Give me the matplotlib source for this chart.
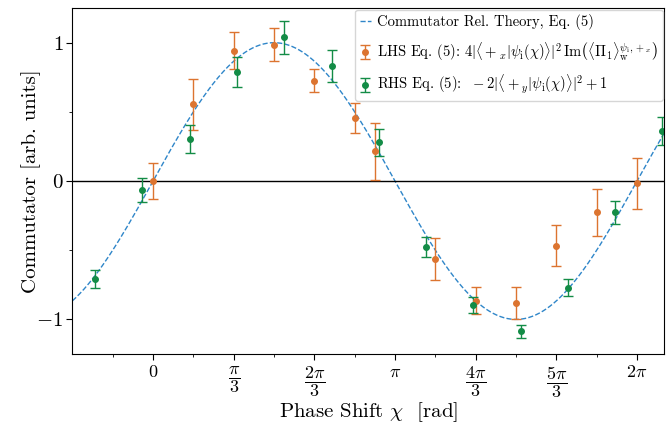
import numpy as np
import matplotlib
matplotlib.use("Agg")
import matplotlib.pyplot as plt

#----------------------------------------------------
# data
#----------------------------------------------------
lhs_chi = [0.0, 0.524, 1.048, 1.567, 2.095, 2.618, 2.878, 3.666, 4.189, 4.713, 5.237, 5.760, 6.283]
lhs_val = [0.0, 0.556, 0.942, 0.986, 0.725, 0.454, 0.217, -0.560, -0.865, -0.884, -0.466, -0.225, -0.015]
lhs_err = [0.130, 0.185, 0.135, 0.120, 0.083, 0.110, 0.206, 0.152, 0.097, 0.116, 0.145, 0.170, 0.185]

rhs_chi = [-0.748, -0.143, 0.476, 1.090, 1.700, 2.320, 2.934, 3.540, 4.159, 4.774, 5.384, 5.998, 6.613]
rhs_val = [-0.705, -0.065, 0.304, 0.790, 1.039, 0.831, 0.280, -0.478, -0.896, -1.085, -0.771, -0.227, 0.360]
rhs_err = [0.065, 0.087, 0.098, 0.108, 0.120, 0.113, 0.097, 0.072, 0.055, 0.047, 0.062, 0.080, 0.100]

xtick_pos = [0, np.pi/3, 2*np.pi/3, np.pi, 4*np.pi/3, 5*np.pi/3, 2*np.pi]
xtick_lab = [r'$0$', r'$\dfrac{\pi}{3}$', r'$\dfrac{2\pi}{3}$', r'$\pi$',
             r'$\dfrac{4\pi}{3}$', r'$\dfrac{5\pi}{3}$', r'$2\pi$']

#----------------------------------------------------
# style
#----------------------------------------------------
plt.rcParams['font.family'] = 'serif'
plt.rcParams['font.serif'] = ['cmr10', 'DejaVu Serif']
plt.rcParams['mathtext.fontset'] = 'cm'
plt.rcParams['axes.formatter.use_mathtext'] = True
plt.rcParams['axes.unicode_minus'] = True

c_blue = '#2f86c9'
c_orange = '#dc7430'
c_green = '#138c46'

fig, ax = plt.subplots(figsize=(6.7, 4.26), dpi=100)
fig.subplots_adjust(left=0.108, right=0.991, top=0.981, bottom=0.169)

xlo, xhi = -np.pi/3, 2*np.pi + 0.35
chi = np.linspace(xlo, xhi, 500)
ax.plot(chi, np.sin(chi), '--', color=c_blue, lw=1.0, label='Commutator Rel. Theory, Eq. (5)')
ax.axhline(0, color='black', lw=1.0)

ax.errorbar(lhs_chi, lhs_val, yerr=lhs_err, fmt='o', color=c_orange, ms=4, elinewidth=1.0,
            capsize=3.5, capthick=1.0,
            label=r'LHS Eq. (5): $4|\langle +_x|\psi_\mathrm{i}(\chi)\rangle|^2\,\mathrm{Im}\left(\langle \Pi_1\rangle_\mathrm{w}^{\psi_\mathrm{i},+_x}\right)$')
ax.errorbar(rhs_chi, rhs_val, yerr=rhs_err, fmt='o', color=c_green, ms=4, elinewidth=1.0,
            capsize=3.5, capthick=1.0,
            label=r'RHS Eq. (5): $\ -2|\langle +_y|\psi_\mathrm{i}(\chi)\rangle|^2+1$')

ax.set_xlim(xlo, xhi)
ax.set_ylim(-1.25, 1.25)
ax.set_xticks(xtick_pos)
ax.set_xticklabels(xtick_lab)
ax.set_xticks(np.arange(-np.pi/6, 2*np.pi + 0.3, np.pi/3), minor=True)
ax.set_yticks([-1, 0, 1])
ax.set_yticks([-0.5, 0.5], minor=True)
ax.tick_params(axis='x', which='major', labelsize=13, length=4)
ax.tick_params(axis='y', which='major', labelsize=15, length=4, pad=2.5)
ax.tick_params(axis='both', which='minor', length=2.5)

ax.set_xlabel(r'Phase Shift $\chi$  [rad]', fontsize=15, labelpad=0)
ax.set_ylabel('Commutator [arb. units]', fontsize=15, labelpad=-3)

ax.legend(loc='upper right', fontsize=10.5, borderaxespad=0.1, borderpad=0.3,
          handlelength=0.8, handletextpad=0.4, labelspacing=0.7, framealpha=0.8)

plt.savefig('out.png', dpi=100)
